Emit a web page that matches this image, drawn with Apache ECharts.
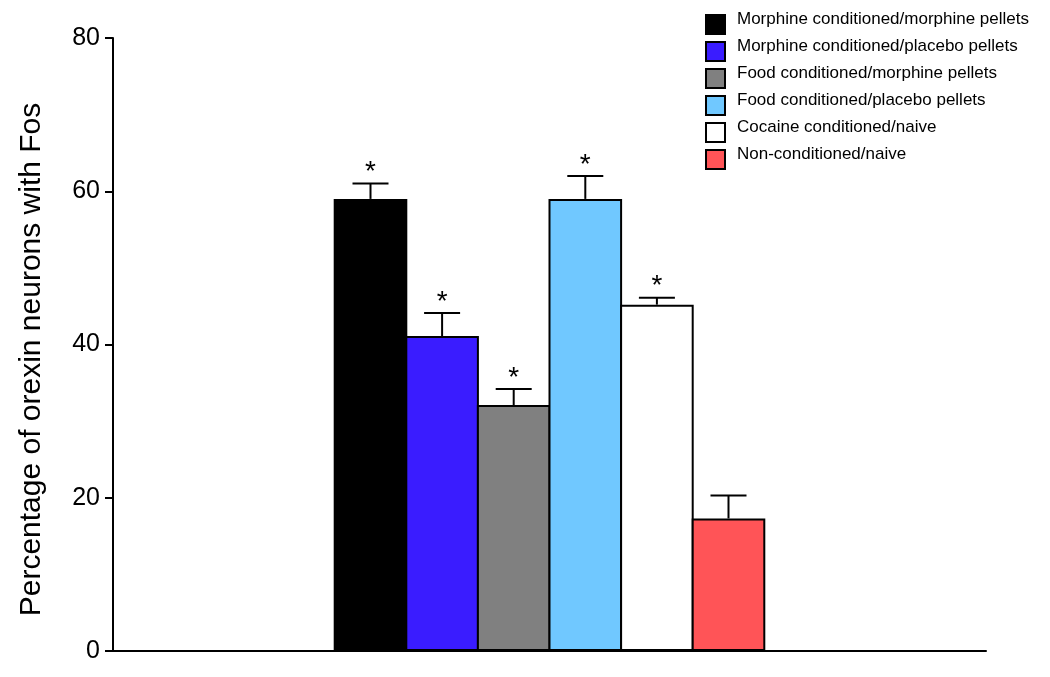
<!DOCTYPE html>
<html><head><meta charset="utf-8">
<script src="https://cdn.jsdelivr.net/npm/echarts@6/dist/echarts.min.js"></script>
<style>html,body{margin:0;padding:0;background:#fff}#c{width:1050px;height:677px}</style>
</head><body><div id="c"></div>
<script>
const groups = ['Morphine conditioned/morphine pellets','Morphine conditioned/placebo pellets','Food conditioned/morphine pellets','Food conditioned/placebo pellets','Cocaine conditioned/naive','Non-conditioned/naive'];
const means = [59, 41.1, 32.1, 59, 45.2, 17.3];
const errors = [2.0, 3.0, 2.1, 3.0, 0.9, 3.0];
const significant = [true, true, true, true, true, false];
const colors = ['#000000','#3a1cff','#808080','#70c8ff','#ffffff','#ff5457'];
const yTicks = [0, 20, 40, 60, 80];
const FONT = '"Liberation Sans", Arial, Helvetica, sans-serif';
const BAR_W = 73.6;
const BAR_GAP = -2 / 73.6;

const chart = echarts.init(document.getElementById('c'));
const series = groups.map((g, i) => ({
  name: g, type: 'bar', data: [means[i]], barWidth: BAR_W, barGap: (BAR_GAP * 100) + '%',
  itemStyle: {color: colors[i], borderColor: '#000', borderWidth: 2},
  emphasis: {disabled: true}, z: 2
}));
series.push({
  type: 'custom', name: 'err', z: 5, silent: true,
  data: means.map((m, i) => [0, m, errors[i], i, significant[i] ? 1 : 0]),
  renderItem: function (params, api) {
    const i = api.value(3);
    const step = BAR_W * (1 + BAR_GAP);
    const base = api.coord([0, api.value(1)]);
    const top = api.coord([0, api.value(1) + api.value(2)]);
    const cx = base[0] + (i - 2.5) * step;
    const hw = 18;
    const children = [
      {type: 'line', shape: {x1: cx, y1: base[1], x2: cx, y2: top[1]}, style: {stroke: '#000', lineWidth: 2}},
      {type: 'line', shape: {x1: cx - hw, y1: top[1], x2: cx + hw, y2: top[1]}, style: {stroke: '#000', lineWidth: 2}}
    ];
    if (api.value(4)) {
      children.push({type: 'text', x: cx, y: top[1] - 11, style: {text: '*', fill: '#000', font: '28px ' + FONT, align: 'center', verticalAlign: 'middle'}});
    }
    return {type: 'group', children: children};
  }
});

chart.setOption({
  animation: false,
  backgroundColor: '#fff',
  textStyle: {fontFamily: FONT},
  grid: {left: 113, right: 64, top: 38, bottom: 26, containLabel: false},
  legend: {
    data: groups, orient: 'vertical', left: 705, top: 11, padding: 0,
    itemWidth: 19, itemHeight: 19, itemGap: 3,
    icon: 'rect', selectedMode: false,
    formatter: '{t|{name}}',
    textStyle: {fontSize: 17, color: '#000', fontFamily: FONT, padding: [0, 0, 0, 7],
      rich: {t: {fontSize: 17, color: '#000', fontFamily: FONT, padding: [0, 0, 10, 0]}}}
  },
  xAxis: {
    type: 'category', data: [''],
    axisLine: {lineStyle: {color: '#000', width: 2}},
    axisTick: {show: false}, axisLabel: {show: false}, splitLine: {show: false}
  },
  yAxis: {
    type: 'value', min: yTicks[0], max: yTicks[yTicks.length - 1], interval: 20,
    name: 'Percentage of orexin neurons with Fos', nameLocation: 'middle', nameGap: 66,
    nameTextStyle: {fontSize: 30, color: '#000', fontFamily: FONT, padding: [0, 30, 0, 0]},
    axisLine: {show: true, lineStyle: {color: '#000', width: 2}},
    axisTick: {show: true, length: 8, lineStyle: {color: '#000', width: 2}},
    axisLabel: {fontSize: 25, color: '#000', margin: 13, fontFamily: FONT},
    splitLine: {show: false}
  },
  series: series
});
</script></body></html>
